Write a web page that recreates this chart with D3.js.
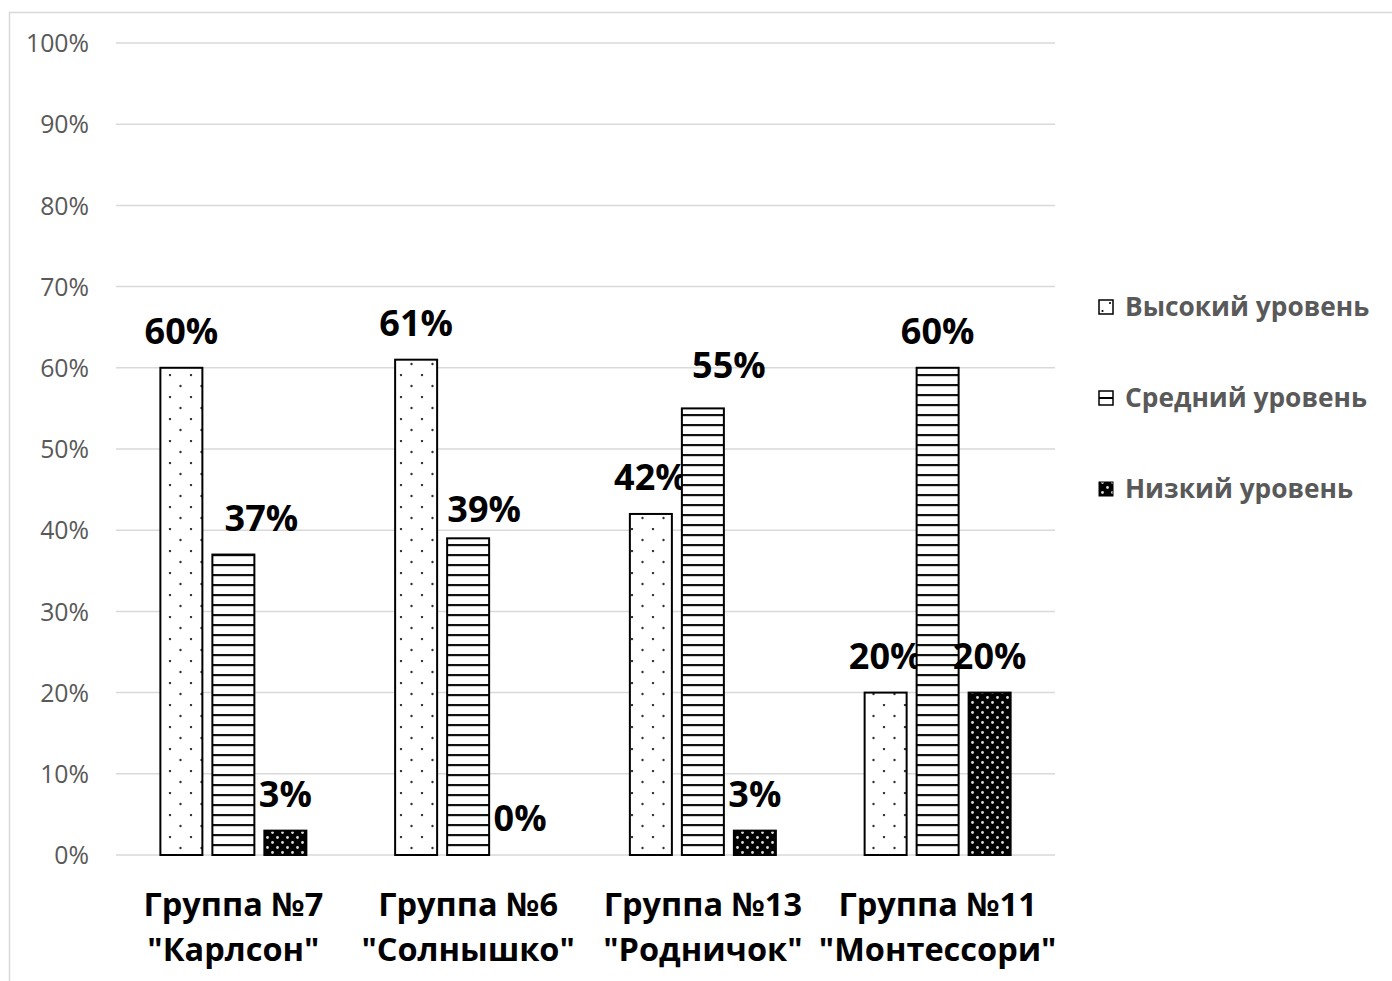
<!DOCTYPE html>
<html>
<head>
<meta charset="utf-8">
<script src="https://cdn.jsdelivr.net/npm/d3@7"></script>
<style>
  html, body { margin: 0; padding: 0; background: #fff; }
  svg { display: block; }
  text { font-family: "Open Sans", "DejaVu Sans", sans-serif; }
</style>
</head>
<body>
<svg id="chart" width="1392" height="981"></svg>
<script>
// ---- data ----
const categories = [
  ["Группа №7", "\"Карлсон\""],
  ["Группа №6", "\"Солнышко\""],
  ["Группа №13", "\"Родничок\""],
  ["Группа №11", "\"Монтессори\""]
];
const seriesNames = ["Высокий уровень", "Средний уровень", "Низкий уровень"];
const highValues = [60, 61, 42, 20];
const midValues  = [37, 39, 55, 60];
const lowValues  = [3, 0, 3, 20];
const yTicks = [0, 10, 20, 30, 40, 50, 60, 70, 80, 90, 100];
// manual label nudges (layout), per series per group: [dx, dy]
const labelNudge = [
  [[0,0],[0,0],[0,0],[0,0]],
  [[28,0],[16,8],[26,-6],[0,0]],
  [[0,0],[0,0],[0,0],[0,0]]
];

const seriesValues = [highValues, midValues, lowValues];

const svg = d3.select("#chart");
const W = 1392, H = 981;
const plot = { left: 116, right: 1055, top: 43, bottom: 855 };

// defs / patterns
const defs = svg.append("defs");
const pDots = defs.append("pattern").attr("id", "pDots")
  .attr("patternUnits", "userSpaceOnUse").attr("width", 21).attr("height", 22);
pDots.append("rect").attr("width", 21).attr("height", 22).attr("fill", "#fff");
pDots.append("circle").attr("cx", 2).attr("cy", 1).attr("r", 1.2).attr("fill", "#333");
pDots.append("circle").attr("cx", 12.5).attr("cy", 12).attr("r", 1.2).attr("fill", "#333");

const pStripes = defs.append("pattern").attr("id", "pStripes")
  .attr("patternUnits", "userSpaceOnUse").attr("width", 10).attr("height", 10);
pStripes.append("rect").attr("width", 10).attr("height", 10).attr("fill", "#fff");
pStripes.append("rect").attr("y", 4).attr("width", 10).attr("height", 2.2).attr("fill", "#111");

const pDark = defs.append("pattern").attr("id", "pDark")
  .attr("patternUnits", "userSpaceOnUse").attr("width", 10).attr("height", 10);
pDark.append("rect").attr("width", 10).attr("height", 10).attr("fill", "#000");
pDark.append("circle").attr("cx", 2.5).attr("cy", 2.5).attr("r", 1.4).attr("fill", "#ddd");
pDark.append("circle").attr("cx", 7.5).attr("cy", 7.5).attr("r", 1.4).attr("fill", "#ddd");

const fills = ["url(#pDots)", "url(#pStripes)", "url(#pDark)"];

// chart border (partial, like the reference)
svg.append("path")
  .attr("d", `M9.5,${H} L9.5,12.5 L${W},12.5`)
  .attr("fill", "none").attr("stroke", "#d9d9d9").attr("stroke-width", 1.5);

// scales
const x0 = d3.scaleBand().domain(d3.range(categories.length))
  .range([plot.left, plot.right]).paddingInner(0).paddingOuter(0);
const y = d3.scaleLinear().domain([0, 100]).range([plot.bottom, plot.top]);

// gridlines
svg.append("g").selectAll("line").data(yTicks).join("line")
  .attr("x1", plot.left).attr("x2", plot.right)
  .attr("y1", d => y(d)).attr("y2", d => y(d))
  .attr("stroke", "#d9d9d9").attr("stroke-width", 1.5);

// y axis labels
const yAxis = d3.axisLeft(y).tickValues(yTicks).tickFormat(d => d + "%").tickSize(0).tickPadding(0);
const gy = svg.append("g").attr("transform", `translate(89,0)`).call(yAxis);
gy.select(".domain").remove();
gy.selectAll("text")
  .attr("fill", "#595959")
  .style("font-size", "24.8px")
  .style("font-family", "'Open Sans', sans-serif")
  .attr("dy", "0.35em");

// bars
const groupInner = 146;
seriesValues.forEach((vals, s) => {
  const g = svg.append("g");
  vals.forEach((v, i) => {
    const c = x0(i) + x0.bandwidth() / 2;
    const x1 = d3.scaleBand().domain(d3.range(3))
      .range([c - groupInner / 2, c + groupInner / 2]).paddingInner(10 / 52).paddingOuter(0);
    const bx = x1(s), bw = x1.bandwidth();
    const top = y(v), h = y(0) - y(v);
    if (h > 0) {
      g.append("rect")
        .attr("x", bx).attr("y", top).attr("width", bw).attr("height", h)
        .attr("fill", fills[s]).attr("stroke", "#000").attr("stroke-width", 2);
    }
    const nd = labelNudge[s][i];
    svg.append("text")
      .attr("x", bx + bw / 2 + nd[0]).attr("y", top - 24 + nd[1])
      .attr("text-anchor", "middle")
      .style("font-size", "36px").style("font-weight", "bold")
      .attr("fill", "#000")
      .text(v + "%");
  });
});

// category labels
const xAxisG = svg.append("g");
categories.forEach((lines, i) => {
  const c = x0(i) + x0.bandwidth() / 2;
  const t = xAxisG.append("text").attr("text-anchor", "middle")
    .style("font-size", "32.5px").style("font-weight", "bold").attr("fill", "#000");
  t.append("tspan").attr("x", c).attr("y", 916).text(lines[0]);
  t.append("tspan").attr("x", c).attr("y", 961).text(lines[1]);
});

// legend
const legend = svg.append("g");
const legendY = [307, 398, 489];
seriesNames.forEach((name, s) => {
  const ly = legendY[s];
  const lg = legend.append("g");
  if (s === 0) {
    lg.append("rect").attr("x", 1099).attr("y", ly - 7).attr("width", 14).attr("height", 14)
      .attr("fill", "#fff").attr("stroke", "#000").attr("stroke-width", 1.5);
    lg.append("circle").attr("cx", 1102.5).attr("cy", ly + 4).attr("r", 1.1).attr("fill", "#000");
    lg.append("circle").attr("cx", 1110).attr("cy", ly - 4).attr("r", 1.1).attr("fill", "#000");
  } else if (s === 1) {
    lg.append("rect").attr("x", 1099).attr("y", ly - 7).attr("width", 14).attr("height", 14)
      .attr("fill", "#fff").attr("stroke", "#000").attr("stroke-width", 1.5);
    lg.append("line").attr("x1", 1099).attr("x2", 1113).attr("y1", ly).attr("y2", ly)
      .attr("stroke", "#000").attr("stroke-width", 2);
  } else {
    lg.append("rect").attr("x", 1099).attr("y", ly - 7).attr("width", 14).attr("height", 14)
      .attr("fill", "url(#pDark)").attr("stroke", "#000").attr("stroke-width", 1);
  }
  lg.append("text").attr("x", 1125).attr("y", ly).attr("dy", "0.35em")
    .style("font-size", "26.3px").style("font-weight", "bold").attr("fill", "#595959")
    .text(name);
});
</script>
</body>
</html>
